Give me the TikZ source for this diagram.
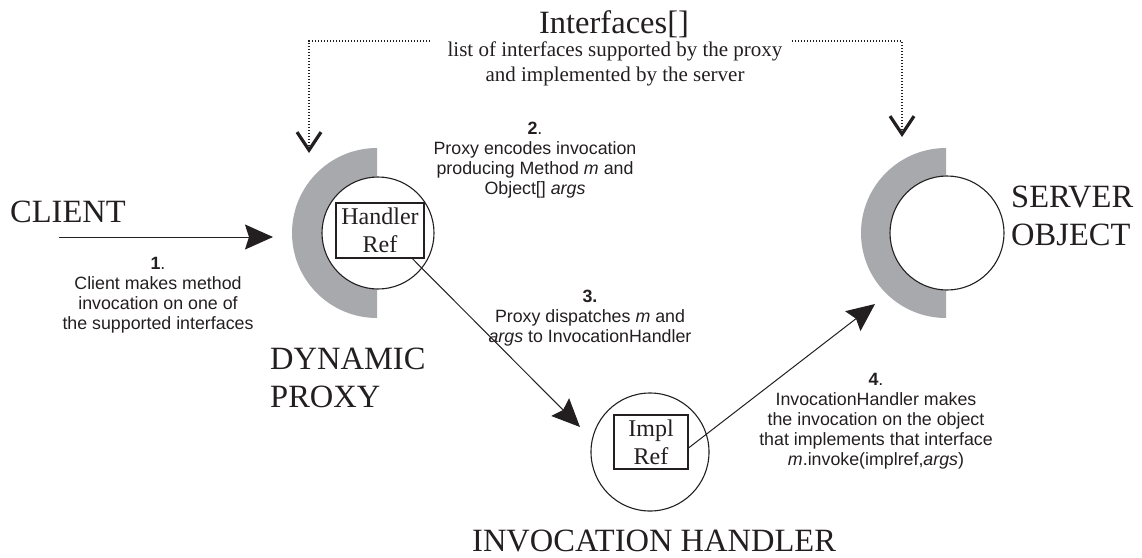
\documentclass[tikz,border=0pt]{standalone}
\usepackage{fontspec}
\setmainfont{Liberation Serif}
\newfontfamily\stepfont{Liberation Sans}
\usetikzlibrary{arrows.meta}
\definecolor{ringgray}{RGB}{167,169,172}
\definecolor{ink}{RGB}{35,31,32}

\begin{document}
\begin{tikzpicture}[x=1pt,y=-1pt,
  title/.style={font=\fontsize{32.5}{38}\selectfont, inner sep=0pt, text=ink},
  note/.style={font=\fontsize{21}{25}\selectfont, inner sep=0pt, align=center, text=ink},
  steptext/.style={font=\stepfont\fontsize{17.8}{20}\selectfont, inner sep=0pt, align=center, text=ink},
  refbox/.style={draw=ink, line width=1.1pt, fill=white, inner sep=0pt, align=center,
                 font=\fontsize{24}{28}\selectfont, text=ink},
  objcircle/.style={circle, draw=ink, line width=1.1pt, fill=white, inner sep=0pt},
  ring/.style={circle, inner sep=0pt, minimum size=170pt},
  flow/.style={draw=ink, line width=1pt, -{Stealth[length=28pt,width=25pt,inset=4pt]}},
  iface/.style={draw=ink, line width=1.2pt, dash pattern=on 1.3pt off 1.7pt,
                -{Straight Barb[length=18pt,width=24pt,line width=3.2pt]}}
]
\useasboundingbox (0,0) rectangle (1142,557);

% gray interface half rings
\node[ring] (pring) at (377,233) {};
\node[ring] (sring) at (946,233) {};
\begin{scope}
  \clip (pring.west |- pring.north) rectangle (pring.south);
  \fill[ringgray] (pring.center) circle[radius=85pt];
\end{scope}
\begin{scope}
  \clip (sring.west |- sring.north) rectangle (sring.south);
  \fill[ringgray] (sring.center) circle[radius=85pt];
\end{scope}

% objects
\node[objcircle, minimum size=112pt] (proxy) at (378,233) {};
\node[refbox, minimum width=88pt, minimum height=55pt] (hbox) at (380,230.5) {Handler\\Ref};
\node[objcircle, minimum size=114pt] (server) at (947,233) {};
\node[objcircle, minimum size=118pt] (impl) at (650,452) {};
\node[refbox, minimum width=74pt, minimum height=54pt] (ibox) at (651,442) {Impl\\Ref};

% captions
\node[title, anchor=base west] (client) at (10,222) {CLIENT};
\node[title, anchor=north west, align=left] (dproxy) at (270,348) {DYNAMIC\\PROXY};
\node[title, anchor=north west, align=left] (sobj) at (1011,186) {SERVER\\OBJECT};
\node[title, anchor=base west] (ihandler) at (472,551) {INVOCATION HANDLER};
\node[title, anchor=base] (ifaces) at (614,33) {Interfaces[]};
\node[note, anchor=north] (ifacenote) at (615,41.5)
  {list of interfaces supported by the proxy\\and implemented by the server};

% step descriptions
\node[steptext, anchor=north] (s1) at (158,257)
  {\textbf{1}.\\Client makes method\\invocation on one of\\the supported interfaces};
\node[steptext, anchor=north] (s2) at (535,122)
  {\textbf{2}.\\Proxy encodes invocation\\producing Method \textit{m} and\\Object[] \textit{args}};
\node[steptext, anchor=north] (s3) at (590,290)
  {\textbf{3.}\\Proxy dispatches \textit{m} and\\\textit{args} to InvocationHandler};
\node[steptext, anchor=north] (s4) at (876,373)
  {\textbf{4}.\\InvocationHandler makes\\the invocation on the object\\that implements that interface\\\textit{m}.invoke(implref,\textit{args})};

% invocation flow
\coordinate (cstart) at (59,237);
\draw[flow] (cstart) -- ([shift={(-104,4)}]pring.center);
\draw[flow] (hbox.-41) -- ([shift={(-70,-25)}]impl.center);
\draw[flow] (ibox.-9) -- ([shift={(-71,71)}]sring.center);

% interface list shared by proxy and server
\coordinate (dl) at (430,41);
\coordinate (dr) at (792,41);
\draw[iface] (dl) -| ([shift={(-68,-80)}]pring.center);
\draw[iface] (dr) -| ([shift={(-44,-96)}]sring.center);
\end{tikzpicture}
\end{document}
